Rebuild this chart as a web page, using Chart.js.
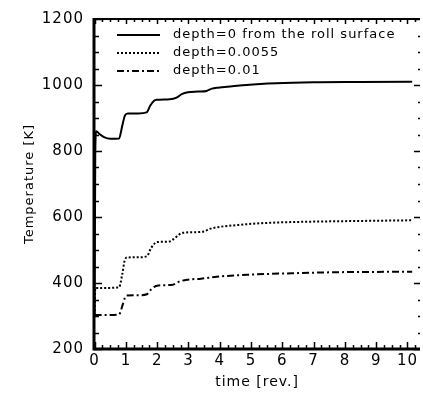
<!DOCTYPE html>
<html>
<head>
<meta charset="utf-8">
<script src="https://cdn.jsdelivr.net/npm/chart.js@4/dist/chart.umd.min.js"></script>
<style>
  html, body { margin: 0; padding: 0; background: #fff; }
  #wrap { width: 423px; height: 398px; }
</style>
</head>
<body>
<div id="wrap"><canvas id="tempChart" width="423" height="398"></canvas></div>
<script>
// values
const seriesLabels = ['depth=0 from the roll surface', 'depth=0.0055', 'depth=0.01'];

const timeSurface = [0, 0.02, 0.05, 0.15, 0.3, 0.5, 0.78, 0.88, 0.97, 1.06, 1.4, 1.66, 1.78, 1.9, 1.98, 2.4, 2.62, 2.8, 2.98, 3.3, 3.58, 3.75, 3.94, 4.4, 4.85, 5.8, 7, 8.5, 10.15];
const tempSurface = [303, 790, 860, 852, 842, 837, 838, 875, 908, 914, 914, 917, 938, 952, 955, 957, 962, 973, 978, 980, 982, 989, 992, 996, 1000, 1005, 1008, 1009, 1010];

const timeMid = [0, 0.02, 0.3, 0.78, 0.88, 0.96, 1.03, 1.4, 1.67, 1.8, 1.92, 1.99, 2.4, 2.55, 2.7, 2.83, 3.2, 3.5, 3.65, 3.8, 4.6, 5.5, 7, 8.5, 10.15];
const tempMid = [303, 385, 385, 387, 425, 468, 477, 478, 481, 505, 520, 524, 526, 535, 547, 552, 554, 556, 563, 567, 576, 582, 586, 588, 590];

const timeDeep = [0, 0.02, 0.5, 0.78, 0.9, 0.97, 1.03, 1.4, 1.67, 1.8, 1.92, 2.0, 2.5, 2.7, 2.95, 3.4, 3.9, 4.9, 6.5, 8, 10.15];
const tempDeep = [303, 303, 303, 305, 335, 356, 362, 363, 366, 380, 389, 392, 395, 404, 410, 413, 419, 425, 430, 433, 434];

const xTicks = [0, 1, 2, 3, 4, 5, 6, 7, 8, 9, 10];
const yTicks = [200, 400, 600, 800, 1000, 1200];

function toPoints(xs, ys) {
  return xs.map((x, i) => ({ x: x, y: ys[i] }));
}

// the reference font is a wide one; spread the letters a bit
const spacingPlugin = {
  id: 'spacing',
  beforeDraw(chart) {
    chart.ctx.letterSpacing = '1px';
  }
};

// ticks pointing into the plot on all four sides, plus the frame lines
const framePlugin = {
  id: 'frame',
  afterDraw(chart) {
    const ctx = chart.ctx;
    const xs = chart.scales.x;
    const ys = chart.scales.y;
    const a = chart.chartArea;
    ctx.save();
    ctx.strokeStyle = '#000';

    // left and bottom axis lines (heavy), top line
    ctx.lineWidth = 3;
    ctx.beginPath();
    ctx.moveTo(a.left, a.top - 1);
    ctx.lineTo(a.left, a.bottom);
    ctx.lineTo(a.right, a.bottom);
    ctx.stroke();
    ctx.lineWidth = 2;
    ctx.beginPath();
    ctx.moveTo(a.left, a.top);
    ctx.lineTo(a.right, a.top);
    ctx.stroke();

    // x ticks every 0.25, majors at integers
    ctx.lineWidth = 1.5;
    ctx.beginPath();
    for (let v = 0; v <= xs.max + 1e-9; v += 0.25) {
      const px = Math.round(xs.getPixelForValue(v)) + 0.5;
      const major = Math.abs(v - Math.round(v)) < 1e-6;
      const len = major ? 7 : 4;
      ctx.moveTo(px, a.bottom);
      ctx.lineTo(px, a.bottom - len);
      ctx.moveTo(px, a.top);
      ctx.lineTo(px, a.top + (major ? 5 : 3));
    }
    // y ticks every 50, majors at 200s
    for (let v = ys.min; v <= ys.max; v += 50) {
      const py = Math.round(ys.getPixelForValue(v)) + 0.5;
      const major = v % 200 === 0;
      ctx.moveTo(a.left, py);
      ctx.lineTo(a.left + (major ? 8 : 5), py);
      ctx.moveTo(a.right, py);
      ctx.lineTo(a.right - (major ? 6 : 2), py);
    }
    ctx.stroke();
    ctx.restore();
  }
};

// legend drawn inside the plot, top left
const legendPlugin = {
  id: 'innerLegend',
  afterDatasetsDraw(chart) {
    const ctx = chart.ctx;
    const a = chart.chartArea;
    const x0 = a.left + 23;
    const lineLen = 43;
    const rowH = 18;
    ctx.save();
    ctx.font = '13px "DejaVu Sans"';
    ctx.letterSpacing = '1px';
    ctx.fillStyle = '#000';
    ctx.textBaseline = 'middle';
    chart.data.datasets.forEach((ds, i) => {
      const y = a.top + 16 + i * rowH;
      ctx.strokeStyle = '#000';
      ctx.lineWidth = ds.borderWidth;
      ctx.setLineDash(ds.borderDash || []);
      ctx.beginPath();
      ctx.moveTo(x0, y);
      ctx.lineTo(x0 + lineLen, y);
      ctx.stroke();
      ctx.setLineDash([]);
      ctx.fillText(ds.label, x0 + lineLen + 13, y);
    });
    ctx.restore();
  }
};

const tickFont = { family: '"DejaVu Sans"', size: 15 };

new Chart(document.getElementById('tempChart'), {
  type: 'scatter',
  data: {
    datasets: [
      { label: seriesLabels[0], data: toPoints(timeSurface, tempSurface), borderDash: [], borderWidth: 2 },
      { label: seriesLabels[1], data: toPoints(timeMid, tempMid), borderDash: [2, 2], borderWidth: 2 },
      { label: seriesLabels[2], data: toPoints(timeDeep, tempDeep), borderDash: [7, 3, 2, 3], borderWidth: 2 }
    ].map(ds => Object.assign(ds, {
      showLine: true,
      borderColor: '#000',
      backgroundColor: '#000',
      pointRadius: 0,
      cubicInterpolationMode: 'monotone'
    }))
  },
  options: {
    responsive: false,
    animation: false,
    layout: { padding: { top: 17, right: 3, left: 0, bottom: 0 } },
    plugins: {
      legend: { display: false },
      tooltip: { enabled: false }
    },
    scales: {
      x: {
        type: 'linear',
        min: -0.02,
        max: 10.4,
        grid: { display: false, drawTicks: false },
        border: { display: false },
        afterFit(scale) { scale.height = 49; },
        afterBuildTicks(scale) { scale.ticks = xTicks.map(v => ({ value: v })); },
        ticks: { color: '#000', font: tickFont, padding: 3, maxRotation: 0, autoSkip: false,
                 callback: v => String(v) },
        title: { display: true, text: 'time [rev.]', color: '#000',
                 font: { family: '"DejaVu Sans"', size: 14 }, padding: { top: 0, bottom: 7 } }
      },
      y: {
        type: 'linear',
        min: 200,
        max: 1200,
        grid: { display: false, drawTicks: false },
        border: { display: false },
        afterFit(scale) { scale.width = 94; },
        afterBuildTicks(scale) { scale.ticks = yTicks.map(v => ({ value: v })); },
        ticks: { color: '#000', font: tickFont, padding: 10, autoSkip: false,
                 callback: v => String(v) },
        title: { display: true, text: 'Temperature [K]', color: '#000',
                 font: { family: '"DejaVu Sans"', size: 13 }, padding: { top: 22, bottom: 0 } }
      }
    }
  },
  plugins: [spacingPlugin, legendPlugin, framePlugin]
});
</script>
</body>
</html>
